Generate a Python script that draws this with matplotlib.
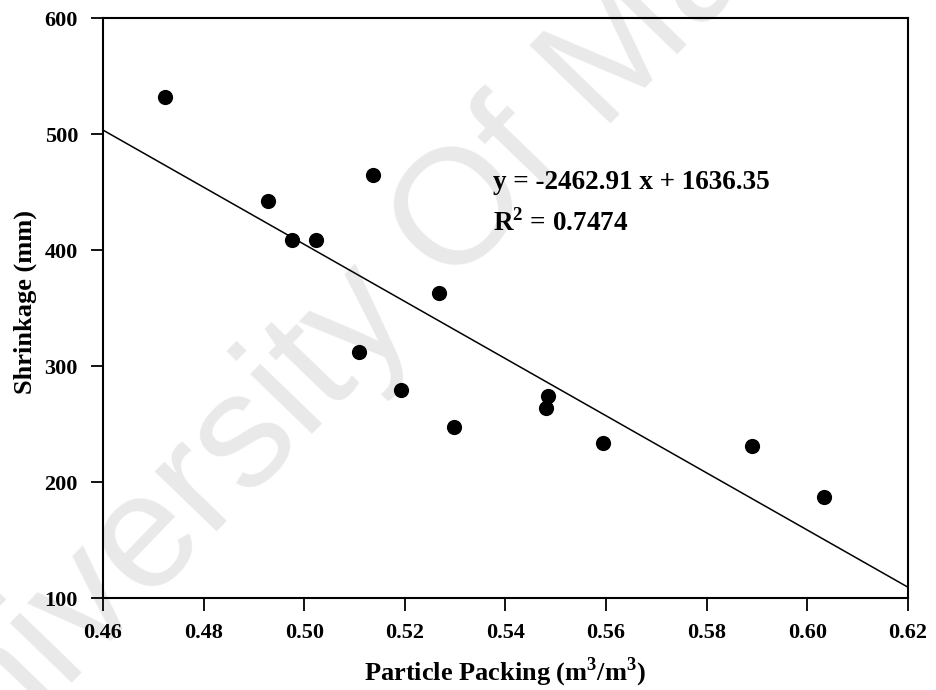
import numpy as np
import matplotlib
matplotlib.use("Agg")
import matplotlib.pyplot as plt

# particle packing (m3/m3) vs drying shrinkage
packing = [0.4723, 0.4929, 0.4976, 0.5023, 0.5137, 0.5109, 0.5192,
           0.5267, 0.5298, 0.5485, 0.5480, 0.5593, 0.5890, 0.6034]
shrinkage = [532, 442, 409, 409, 465, 312, 279,
             363, 247, 274, 264, 234, 231, 187]

slope = -2462.91
intercept = 1636.35
r2 = 0.7474

x_ticks = [0.46, 0.48, 0.50, 0.52, 0.54, 0.56, 0.58, 0.60, 0.62]
y_ticks = [100, 200, 300, 400, 500, 600]

plt.rcParams['font.family'] = ['Liberation Serif', 'DejaVu Serif']
plt.rcParams['font.weight'] = 'bold'
plt.rcParams['mathtext.fontset'] = 'custom'
plt.rcParams['mathtext.bf'] = 'Liberation Serif:bold'
plt.rcParams['mathtext.rm'] = 'Liberation Serif:bold'


def main():
    fig = plt.figure(figsize=(9.36, 6.9), dpi=100)
    ax = fig.add_axes([0.110, 0.1333, 0.860, 0.8406])
    ax.patch.set_alpha(0)

    # faint watermark behind everything
    fig.text(0.442, 0.613, "University Of Malaya", fontsize=118, color='#e9e9e9',
             rotation=46, ha='center', va='center', zorder=-1,
             family=['Liberation Sans', 'DejaVu Sans'], weight='normal')

    ax.scatter(packing, shrinkage, s=120, color='black', zorder=3, linewidths=0)

    xl = np.array([x_ticks[0], x_ticks[-1]])
    ax.plot(xl, slope * xl + intercept, color='black', lw=1.1, zorder=2)

    ax.text(0.5375, 453, f"y = {slope} x + {intercept}", fontsize=19.5,
            fontweight='bold', va='baseline')
    ax.text(0.5375, 417, f"R$^\\mathbf{{2}}$ = {r2}", fontsize=19.5,
            fontweight='bold', va='baseline')

    ax.set_xlim(x_ticks[0], x_ticks[-1])
    ax.set_ylim(y_ticks[0], y_ticks[-1])
    ax.set_xticks(x_ticks)
    ax.set_xticklabels([f"{t:.2f}" for t in x_ticks])
    ax.set_yticks(y_ticks)
    ax.tick_params(direction='out', length=9, width=1.3, labelsize=16, pad=9)
    for s in ax.spines.values():
        s.set_linewidth(1.5)

    ax.set_xlabel("Particle Packing (m$^\\mathbf{3}$/m$^\\mathbf{3}$)", fontsize=19,
                  fontweight='bold', va='baseline')
    ax.xaxis.set_label_coords(0.5, -0.143)
    ax.set_ylabel("Shrinkage (mm)", fontsize=19, fontweight='bold', va='center')
    ax.yaxis.set_label_coords(-0.097, 0.51)

    fig.savefig('out.png', dpi=100)


if __name__ == "__main__":
    main()
